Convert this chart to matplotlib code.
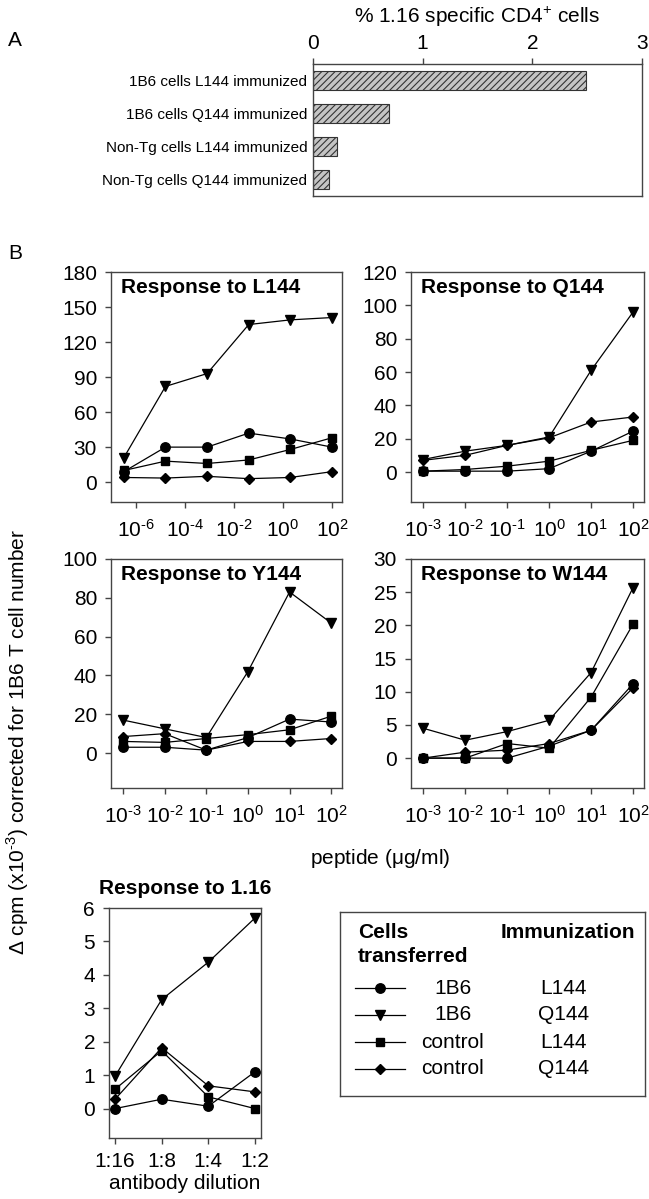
import numpy as np
import matplotlib
matplotlib.use("Agg")
import matplotlib.pyplot as plt
from matplotlib.ticker import FixedLocator, FuncFormatter, NullLocator
from matplotlib.lines import Line2D

plt.rcParams['font.family'] = ['Liberation Sans', 'DejaVu Sans']
plt.rcParams['mathtext.fontset'] = 'custom'
plt.rcParams['mathtext.rm'] = 'Liberation Sans'
plt.rcParams['hatch.linewidth'] = 0.8
plt.rcParams['hatch.color'] = '#333333'

# ---- panel A data
groups = ['1B6 cells L144 immunized', '1B6 cells Q144 immunized',
          'Non-Tg cells L144 immunized', 'Non-Tg cells Q144 immunized']
pct_116 = [2.49, 0.69, 0.22, 0.15]

# ---- panel B data
pep_fine = [3.2e-7, 1.6e-5, 8e-4, 0.04, 2, 100]   # 50-fold dilutions
pep_dec = [1e-3, 1e-2, 1e-1, 1, 10, 100]
dilutions = ['1:16', '1:8', '1:4', '1:2']

# order: 1B6/L144, 1B6/Q144, control/L144, control/Q144
L144 = [[9, 30, 30, 42, 37, 30],
        [21, 82, 93, 135, 139, 141],
        [10, 18, 16, 19, 28, 38],
        [4, 3.5, 5, 3, 4, 9]]
Q144 = [[0.5, 0.5, 0.5, 2, 12.5, 24.5],
        [7.5, 12.5, 16, 21, 61, 96],
        [0.5, 1.5, 3.5, 6.5, 13, 19],
        [7, 10, 16, 20.5, 30, 33]]
Y144 = [[3, 3, 1.5, 8, 17.5, 16],
        [17, 12.5, 8, 42, 83, 67],
        [6, 5.5, 7.5, 9.5, 12, 19],
        [8.5, 10, 1.5, 6, 6, 7.5]]
W144 = [[0, 0, 0, 1.8, 4.2, 11.2],
        [4.5, 2.7, 4.0, 5.7, 12.9, 25.7],
        [0, 0, 2.2, 1.5, 9.2, 20.2],
        [0, 0.9, 1.2, 2.2, 4.2, 10.6]]
R116 = [[0, 0.28, 0.07, 1.1],
        [0.97, 3.26, 4.38, 5.7],
        [0.58, 1.73, 0.35, 0.0],
        [0.28, 1.82, 0.68, 0.5]]

cells = ['1B6', '1B6', 'control', 'control']
immun = ['L144', 'Q144', 'L144', 'Q144']
markers = ['o', 'v', 's', 'D']
msizes = [6.8, 7.5, 6.0, 5.2]

W, H = 649, 1199
fig = plt.figure(figsize=(W / 100, H / 100), dpi=100)
FS = 15
frame = '#444444'


def box(x0, y0, x1, y1):
    return [x0 / W, 1 - y1 / H, (x1 - x0) / W, (y1 - y0) / H]


def style(ax):
    for s in ax.spines.values():
        s.set_color(frame)
        s.set_linewidth(1.0)
    ax.tick_params(direction='out', length=4, width=1, color=frame,
                   labelsize=FS, pad=6)


def draw_series(ax, x, data):
    for i in range(4):
        ax.plot(x, data[i], color='black', lw=0.9, marker=markers[i],
                ms=msizes[i], mfc='black', mec='black', zorder=3 + i % 2)


def logfmt(v, p):
    e = int(round(np.log10(v)))
    # plain hyphen in the exponent, like the original figure
    s = str(e).replace('-', '\u2010')
    return r'$\mathdefault{10^{%s}}$' % s


# ---------- panel A
axA = fig.add_axes(box(313, 64, 642, 196))
ypos = np.arange(len(groups))
axA.barh(ypos, pct_116, height=0.6, color='#c4c4c4', edgecolor='#333333',
         hatch='/////', linewidth=0.8)
axA.set_xlim(0, 3)
axA.set_ylim(3.5, -0.5)
axA.set_yticks(ypos)
axA.set_yticklabels(groups, fontsize=11)
axA.set_xticks([0, 1, 2, 3])
axA.xaxis.tick_top()
style(axA)
axA.tick_params(axis='y', length=0, labelsize=11, pad=4)
axA.tick_params(axis='x', length=4, pad=4)
axA.set_title('% 1.16 specific CD4$^{+}$ cells', fontsize=FS, pad=8)
fig.text(8 / W, 1 - 40 / H, 'A', fontsize=FS, va='center')
fig.text(8 / W, 1 - 253 / H, 'B', fontsize=FS, va='center')

# ---------- peptide panels
panels = [
    ('Response to L144', L144, pep_fine, box(111, 272, 342, 502),
     (-17, 180), 30, (10 ** -7.02, 10 ** 2.41), [1e-6, 1e-4, 1e-2, 1, 1e2]),
    ('Response to Q144', Q144, pep_dec, box(411, 272, 644, 502),
     (-18, 120), 20, (10 ** -3.29, 10 ** 2.26), pep_dec),
    ('Response to Y144', Y144, pep_dec, box(111, 559, 342, 788),
     (-18, 100), 20, (10 ** -3.29, 10 ** 2.26), pep_dec),
    ('Response to W144', W144, pep_dec, box(411, 559, 644, 788),
     (-4.5, 30), 5, (10 ** -3.29, 10 ** 2.26), pep_dec),
]

for title, data, xs, pos, ylim, ystep, xlim, xt in panels:
    ax = fig.add_axes(pos)
    draw_series(ax, xs, data)
    ax.set_xscale('log')
    ax.set_xlim(*xlim)
    ax.set_ylim(*ylim)
    ax.xaxis.set_major_locator(FixedLocator(xt))
    ax.xaxis.set_minor_locator(NullLocator())
    ax.xaxis.set_major_formatter(FuncFormatter(logfmt))
    ax.set_yticks(np.arange(0, ylim[1] + 0.01, ystep))
    style(ax)
    ax.tick_params(axis='x', pad=8)
    ax.text(0.045, 0.975, title, transform=ax.transAxes, fontsize=FS,
            fontweight='bold', va='top', ha='left')

fig.text(380 / W, 1 - 859 / H, r'peptide ($\mathdefault{\mu}$g/ml)',
         fontsize=FS, ha='center', va='center')
fig.text(18 / W, 1 - 742 / H,
         'Δ cpm (x10$^{\u2010' + '3}$) corrected for 1B6 T cell number',
         fontsize=FS, rotation=90, ha='center', va='center')

# ---------- antibody panel
axC = fig.add_axes(box(109, 908, 261, 1138))
draw_series(axC, np.arange(len(dilutions)), R116)
axC.set_xlim(-0.13, 3.13)
axC.set_ylim(-0.88, 6)
axC.set_xticks(np.arange(len(dilutions)))
axC.set_xticklabels(dilutions)
axC.set_yticks(np.arange(0, 7))
style(axC)
axC.set_xlabel('antibody dilution', fontsize=FS, labelpad=2)
axC.set_title('Response to 1.16', fontsize=FS, fontweight='bold', pad=10)

# ---------- legend box
axL = fig.add_axes(box(340, 912, 645, 1096))
axL.set_xlim(0, 305)
axL.set_ylim(184, 0)
axL.set_xticks([])
axL.set_yticks([])
for s in axL.spines.values():
    s.set_color(frame)
    s.set_linewidth(1.0)
axL.text(18, 21, 'Cells', fontsize=FS, fontweight='bold', va='center')
axL.text(18, 45, 'transferred', fontsize=FS, fontweight='bold', va='center')
axL.text(228, 21, 'Immunization', fontsize=FS, fontweight='bold',
         va='center', ha='center')
for i in range(4):
    yy = 76 + 27 * i
    axL.add_line(Line2D([15, 40, 65], [yy, yy, yy], color='black', lw=0.9,
                        marker=markers[i], ms=msizes[i], markevery=[1],
                        mfc='black', mec='black'))
    axL.text(113, yy, cells[i], fontsize=FS, ha='center', va='center')
    axL.text(224, yy, immun[i], fontsize=FS, ha='center', va='center')

fig.savefig('out.png', dpi=100)
